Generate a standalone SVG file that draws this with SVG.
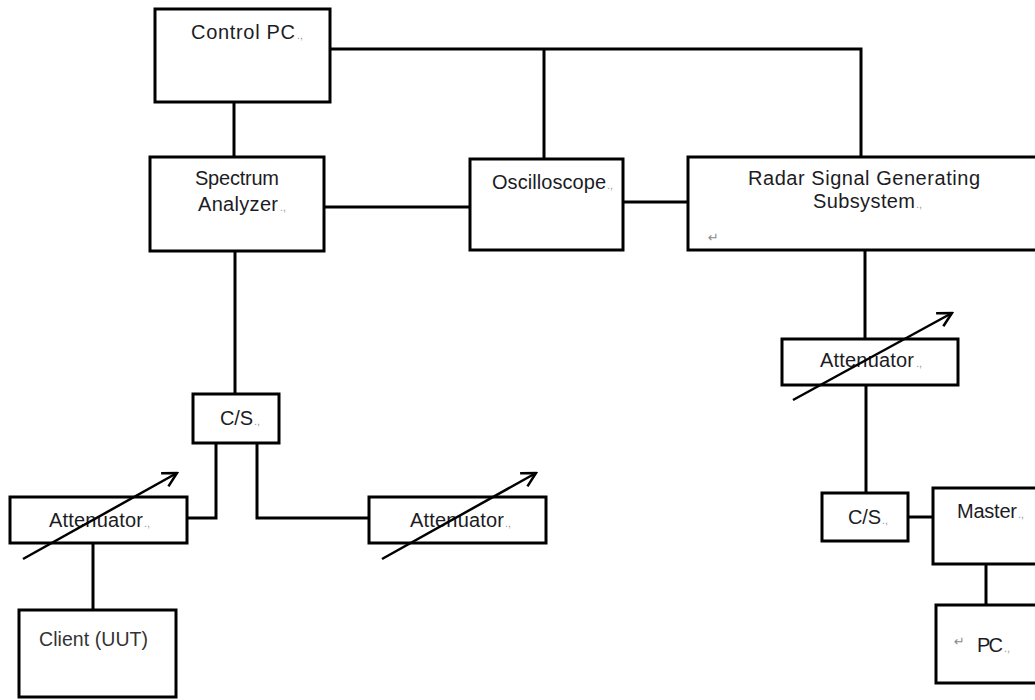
<svg xmlns="http://www.w3.org/2000/svg" width="1035" height="700" viewBox="0 0 1035 700">
  <style>
    .box { fill: #ffffff; stroke: #000000; stroke-width: 3; }
    .wire { fill: none; stroke: #000000; stroke-width: 3; stroke-linejoin: miter; }
    .adj { fill: none; stroke: #000000; stroke-width: 2.5; }
    .lbl { font-family: "Liberation Sans", Arial, sans-serif; font-size: 20px; fill: #1c1c24; }
    .mk { font-size: 11px; fill: #9a9a9a; }
    .ret { font-family: "DejaVu Sans", sans-serif; font-size: 13px; fill: #8a8a8a; }
  </style>
  <defs>
    <marker id="openHead" markerUnits="userSpaceOnUse" viewBox="-16 -9 18 18" markerWidth="18" markerHeight="18" refX="0" refY="0" orient="auto">
      <path d="M -14,-7.5 L 0,0 L -14,7.5" fill="none" stroke="#000" stroke-width="2.5"/>
    </marker>
  </defs>
  <rect width="1035" height="700" fill="#ffffff"/>

  <g id="connectors">
    <polyline class="wire" points="330,49 861,49 861,157"/>
    <line class="wire" x1="544" y1="49" x2="544" y2="159"/>
    <line class="wire" x1="234" y1="102" x2="234" y2="157"/>
    <line class="wire" x1="324" y1="207" x2="470" y2="207"/>
    <line class="wire" x1="623" y1="202" x2="688" y2="202"/>
    <line class="wire" x1="865" y1="250" x2="865" y2="339"/>
    <line class="wire" x1="866" y1="385" x2="866" y2="493"/>
    <line class="wire" x1="908" y1="517" x2="933" y2="517"/>
    <line class="wire" x1="986" y1="564" x2="986" y2="605"/>
    <line class="wire" x1="235" y1="251" x2="235" y2="394"/>
    <polyline class="wire" points="216,443 216,518 187,518"/>
    <polyline class="wire" points="257,443 257,518 369,518"/>
    <line class="wire" x1="93" y1="543" x2="93" y2="610"/>
  </g>

  <g id="control-pc">
    <rect class="box" x="155" y="9" width="175" height="93"/>
    <text class="lbl" x="191" y="39" textLength="104" lengthAdjust="spacing">Control PC</text>
    <text class="lbl mk" x="297" y="39">.,</text>
  </g>

  <g id="spectrum-analyzer">
    <rect class="box" x="150" y="157" width="174" height="94"/>
    <text class="lbl" x="195" y="185" textLength="84" lengthAdjust="spacing">Spectrum</text>
    <text class="lbl" x="198" y="211" textLength="80" lengthAdjust="spacing">Analyzer</text>
    <text class="lbl mk" x="280" y="211">.,</text>
  </g>

  <g id="oscilloscope">
    <rect class="box" x="470" y="159" width="153" height="91"/>
    <text class="lbl" x="492" y="189" textLength="114" lengthAdjust="spacing">Oscilloscope</text>
    <text class="lbl mk" x="607" y="189">.,</text>
  </g>

  <g id="radar-signal-generating-subsystem">
    <rect class="box" x="688" y="157" width="352" height="93"/>
    <text class="lbl" x="748" y="185" textLength="232" lengthAdjust="spacing">Radar Signal Generating</text>
    <text class="lbl" x="813" y="208" textLength="102" lengthAdjust="spacing">Subsystem</text>
    <text class="lbl mk" x="916" y="208">.,</text>
    <text class="ret" x="708" y="242">↵</text>
  </g>

  <g id="attenuator-radar">
    <rect class="box" x="782" y="339" width="176" height="46"/>
    <text class="lbl" x="820" y="367" textLength="94" lengthAdjust="spacing">Attenuator</text>
    <text class="lbl mk" x="916" y="367">.,</text>
    <line class="adj" x1="793" y1="400" x2="952" y2="313" marker-end="url(#openHead)"/>
  </g>

  <g id="cs-right">
    <rect class="box" x="822" y="493" width="86" height="48"/>
    <text class="lbl" x="848" y="524" textLength="33" lengthAdjust="spacing">C/S</text>
    <text class="lbl mk" x="882" y="524">.,</text>
  </g>

  <g id="master">
    <rect class="box" x="933" y="488" width="107" height="76"/>
    <text class="lbl" x="957" y="518" textLength="60" lengthAdjust="spacing">Master</text>
    <text class="lbl mk" x="1018" y="518">.,</text>
  </g>

  <g id="pc">
    <rect class="box" x="936" y="605" width="104" height="78"/>
    <text class="ret" x="954" y="646">↵</text>
    <text class="lbl" x="977" y="652" textLength="26" lengthAdjust="spacing">PC</text>
    <text class="lbl mk" x="1004" y="652">.,</text>
  </g>

  <g id="cs-left">
    <rect class="box" x="193" y="394" width="86" height="49"/>
    <text class="lbl" x="220" y="425" textLength="33" lengthAdjust="spacing">C/S</text>
    <text class="lbl mk" x="254" y="425">.,</text>
  </g>

  <g id="attenuator-client">
    <rect class="box" x="10" y="497" width="177" height="46"/>
    <text class="lbl" x="49" y="527" textLength="94" lengthAdjust="spacing">Attenuator</text>
    <text class="lbl mk" x="144" y="527">.,</text>
    <line class="adj" x1="23" y1="559" x2="177" y2="473" marker-end="url(#openHead)"/>
  </g>

  <g id="attenuator-right">
    <rect class="box" x="369" y="497" width="177" height="46"/>
    <text class="lbl" x="410" y="527" textLength="94" lengthAdjust="spacing">Attenuator</text>
    <text class="lbl mk" x="505" y="527">.,</text>
    <line class="adj" x1="382" y1="559" x2="536" y2="473" marker-end="url(#openHead)"/>
  </g>

  <g id="client-uut">
    <rect class="box" x="19" y="610" width="157" height="87"/>
    <text class="lbl" x="39" y="646" style="font-size:19.5px; fill:#333333" textLength="109" lengthAdjust="spacing">Client (UUT)</text>
  </g>
</svg>
